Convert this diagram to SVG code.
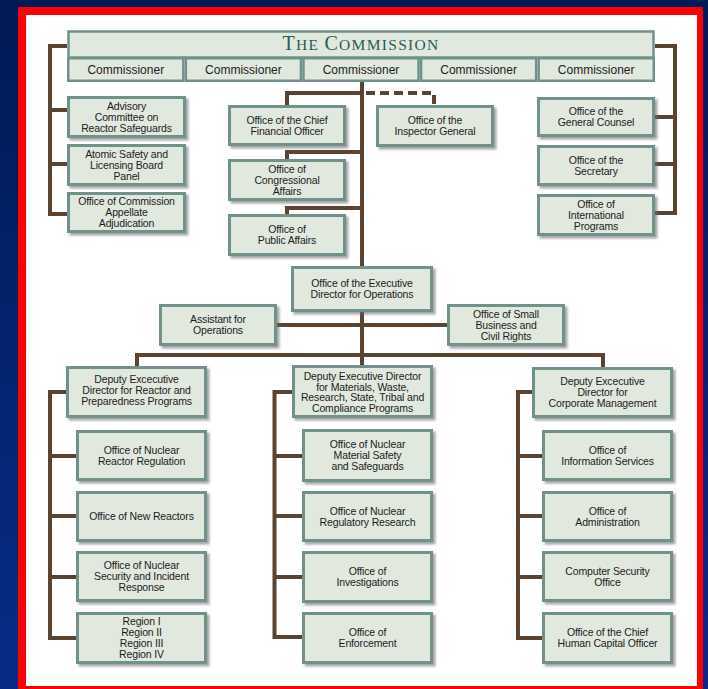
<svg xmlns="http://www.w3.org/2000/svg" width="708" height="689" viewBox="0 0 708 689">
<defs>
<linearGradient id="bg" x1="0" y1="0" x2="0" y2="1">
<stop offset="0" stop-color="#001a55"/>
<stop offset="1" stop-color="#062c86"/>
</linearGradient>
<filter id="sh" x="-10%" y="-10%" width="130%" height="130%">
<feDropShadow dx="2.5" dy="2.5" stdDeviation="1" flood-color="#6a6a6a" flood-opacity="0.6"/>
</filter>
<style>
.box{fill:#e1e8de;stroke:#6f928a;stroke-width:3;filter:url(#sh)}
.cell{fill:#e1e8de;stroke:#6f928a;stroke-width:2.5}
.t{font-family:"Liberation Sans",Arial,sans-serif;font-size:10.5px;letter-spacing:-0.15px;fill:#1c1c1c;text-anchor:middle}
.ct{font-family:"Liberation Sans",Arial,sans-serif;font-size:12px;fill:#1c1c1c;text-anchor:middle}
.title{font-family:"Liberation Serif","Times New Roman",serif;fill:#2c5a55;text-anchor:middle;letter-spacing:1.3px}
.ln{fill:none;stroke:#5b4331;stroke-width:4}
.dash{fill:none;stroke:#5b4331;stroke-width:4;stroke-dasharray:9 5}
</style>
</defs>
<rect x="0" y="0" width="708" height="689" fill="url(#bg)"/>
<rect x="18" y="7" width="685" height="690" fill="#ff0000"/>
<rect x="26" y="15" width="671" height="671" fill="#ffffff"/>

<g id="connectors">
<path class="ln" d="M67 46H50V214H67M50 110H67M50 164H67"/>
<path class="ln" d="M655 46H675V213H655M675 117H655M675 164H655"/>
<path class="ln" d="M362 82V355"/>
<path class="ln" d="M362 93H287V106M362 152H287V160M362 208H287V215"/>
<path class="dash" d="M366 93H434V106"/>
<path class="ln" d="M277 325H447"/>
<path class="ln" d="M137 355H603M137 353V367M603 353V368M362 355V366"/>
<path class="ln" d="M66 392H50V638H76M50 456H76M50 516H76M50 577H76"/>
<path class="ln" d="M292 392H274.5V637H302M274.5 456H302M274.5 516H302M274.5 577H302"/>
<path class="ln" d="M532 392H518V638H542M518 456H542M518 516H542M518 577H542"/>
</g>

<g id="commission">
<rect class="cell" x="68.5" y="31.5" width="585" height="26" stroke-width="3"/>
<text class="title" x="361" y="49.5"><tspan font-size="20">T</tspan><tspan font-size="15.5">HE </tspan><tspan font-size="20">C</tspan><tspan font-size="15.5">OMMISSION</tspan></text>
<g id="commissioner1"><rect class="cell" x="68.25" y="58.25" width="115.1" height="22.5"/><text class="ct" x="125.8" y="73.5">Commissioner</text></g>
<g id="commissioner2"><rect class="cell" x="185.85" y="58.25" width="115.1" height="22.5"/><text class="ct" x="243.4" y="73.5">Commissioner</text></g>
<g id="commissioner3"><rect class="cell" x="303.45" y="58.25" width="115.1" height="22.5"/><text class="ct" x="361" y="73.5">Commissioner</text></g>
<g id="commissioner4"><rect class="cell" x="421.05" y="58.25" width="115.1" height="22.5"/><text class="ct" x="478.6" y="73.5">Commissioner</text></g>
<g id="commissioner5"><rect class="cell" x="538.65" y="58.25" width="115.1" height="22.5"/><text class="ct" x="596.2" y="73.5">Commissioner</text></g>
</g>

<g id="acrs"><rect class="box" x="68.5" y="97.5" width="116" height="39"/><text class="t"><tspan x="126.5" y="109.9">Advisory</tspan><tspan x="126.5" y="120.7">Committee on</tspan><tspan x="126.5" y="131.5">Reactor Safeguards</tspan></text></g>
<g id="aslbp"><rect class="box" x="68.5" y="145.5" width="116" height="39"/><text class="t"><tspan x="126.5" y="157.9">Atomic Safety and</tspan><tspan x="126.5" y="168.7">Licensing Board</tspan><tspan x="126.5" y="179.5">Panel</tspan></text></g>
<g id="ocaa"><rect class="box" x="68.5" y="193.5" width="116" height="38"/><text class="t"><tspan x="126.5" y="205.4">Office of Commission</tspan><tspan x="126.5" y="216.2">Appellate</tspan><tspan x="126.5" y="227">Adjudication</tspan></text></g>

<g id="ocfo"><rect class="box" x="229.5" y="106.5" width="115" height="38"/><text class="t"><tspan x="287" y="123.8">Office of the Chief</tspan><tspan x="287" y="134.6">Financial Officer</tspan></text></g>
<g id="oca"><rect class="box" x="229.5" y="160.5" width="115" height="39"/><text class="t"><tspan x="287" y="172.9">Office of</tspan><tspan x="287" y="183.7">Congressional</tspan><tspan x="287" y="194.5">Affairs</tspan></text></g>
<g id="opa"><rect class="box" x="229.5" y="215.5" width="115" height="39"/><text class="t"><tspan x="287" y="233.3">Office of</tspan><tspan x="287" y="244.1">Public Affairs</tspan></text></g>
<g id="oig"><rect class="box" x="377.5" y="106.5" width="115" height="39"/><text class="t"><tspan x="435" y="124.3">Office of the</tspan><tspan x="435" y="135.1">Inspector General</tspan></text></g>

<g id="ogc"><rect class="box" x="538.5" y="98.5" width="115" height="37"/><text class="t"><tspan x="596" y="115.3">Office of the</tspan><tspan x="596" y="126.1">General Counsel</tspan></text></g>
<g id="secy"><rect class="box" x="538.5" y="146.5" width="115" height="38"/><text class="t"><tspan x="596" y="163.8">Office of the</tspan><tspan x="596" y="174.6">Secretary</tspan></text></g>
<g id="oip"><rect class="box" x="538.5" y="195.5" width="115" height="39"/><text class="t"><tspan x="596" y="207.9">Office of</tspan><tspan x="596" y="218.7">International</tspan><tspan x="596" y="229.5">Programs</tspan></text></g>

<g id="edo"><rect class="box" x="292.5" y="267.5" width="139" height="43"/><text class="t"><tspan x="362" y="287.3">Office of the Executive</tspan><tspan x="362" y="298.1">Director for Operations</tspan></text></g>
<g id="ao"><rect class="box" x="160.5" y="305.5" width="115" height="39"/><text class="t"><tspan x="218" y="323.3">Assistant for</tspan><tspan x="218" y="334.1">Operations</tspan></text></g>
<g id="sbcr"><rect class="box" x="448.5" y="305.5" width="115" height="39"/><text class="t"><tspan x="506" y="317.9">Office of Small</tspan><tspan x="506" y="328.7">Business and</tspan><tspan x="506" y="339.5">Civil Rights</tspan></text></g>

<g id="dedr"><rect class="box" x="67.5" y="367.5" width="138" height="49"/><text class="t"><tspan x="136.5" y="383.4">Deputy Excecutive</tspan><tspan x="136.5" y="394.2">Director for Reactor and</tspan><tspan x="136.5" y="405">Preparedness Programs</tspan></text></g>
<g id="dedm"><rect class="box" x="293.5" y="366.5" width="138" height="50"/><text class="t"><tspan x="362.5" y="379.7">Deputy Executive Director</tspan><tspan x="362.5" y="390.5">for Materials, Waste,</tspan><tspan x="362.5" y="401.3">Research, State, Tribal and</tspan><tspan x="362.5" y="412.1">Compliance Programs</tspan></text></g>
<g id="dedc"><rect class="box" x="533.5" y="368.5" width="138" height="48"/><text class="t"><tspan x="602.5" y="384.9">Deputy Excecutive</tspan><tspan x="602.5" y="395.7">Director for</tspan><tspan x="602.5" y="406.5">Corporate Management</tspan></text></g>

<g id="nrr"><rect class="box" x="77.5" y="431.5" width="128" height="48"/><text class="t"><tspan x="141.5" y="453.8">Office of Nuclear</tspan><tspan x="141.5" y="464.6">Reactor Regulation</tspan></text></g>
<g id="nro"><rect class="box" x="77.5" y="492.5" width="128" height="48"/><text class="t"><tspan x="141.5" y="520.2">Office of New Reactors</tspan></text></g>
<g id="nsir"><rect class="box" x="77.5" y="552.5" width="128" height="48"/><text class="t"><tspan x="141.5" y="569.4">Office of Nuclear</tspan><tspan x="141.5" y="580.2">Security and Incident</tspan><tspan x="141.5" y="591">Response</tspan></text></g>
<g id="regions"><rect class="box" x="77.5" y="613.5" width="128" height="49"/><text class="t"><tspan x="141.5" y="625">Region I</tspan><tspan x="141.5" y="636">Region II</tspan><tspan x="141.5" y="647">Region III</tspan><tspan x="141.5" y="658">Region IV</tspan></text></g>

<g id="nmss"><rect class="box" x="303.5" y="430.5" width="128" height="50"/><text class="t"><tspan x="367.5" y="448.4">Office of Nuclear</tspan><tspan x="367.5" y="459.2">Material Safety</tspan><tspan x="367.5" y="470">and Safeguards</tspan></text></g>
<g id="res"><rect class="box" x="303.5" y="492.5" width="128" height="48"/><text class="t"><tspan x="367.5" y="514.8">Office of Nuclear</tspan><tspan x="367.5" y="525.6">Regulatory Research</tspan></text></g>
<g id="oi"><rect class="box" x="303.5" y="552.5" width="128" height="49"/><text class="t"><tspan x="367.5" y="575.3">Office of</tspan><tspan x="367.5" y="586.1">Investigations</tspan></text></g>
<g id="oe"><rect class="box" x="303.5" y="613.5" width="128" height="49"/><text class="t"><tspan x="367.5" y="636.3">Office of</tspan><tspan x="367.5" y="647.1">Enforcement</tspan></text></g>

<g id="ois"><rect class="box" x="543.5" y="431.5" width="128" height="48"/><text class="t"><tspan x="607.5" y="453.8">Office of</tspan><tspan x="607.5" y="464.6">Information Services</tspan></text></g>
<g id="adm"><rect class="box" x="543.5" y="492.5" width="128" height="48"/><text class="t"><tspan x="607.5" y="514.8">Office of</tspan><tspan x="607.5" y="525.6">Administration</tspan></text></g>
<g id="cso"><rect class="box" x="543.5" y="552.5" width="128" height="48"/><text class="t"><tspan x="607.5" y="574.8">Computer Security</tspan><tspan x="607.5" y="585.6">Office</tspan></text></g>
<g id="ohcm"><rect class="box" x="543.5" y="613.5" width="128" height="49"/><text class="t"><tspan x="607.5" y="636.3">Office of the Chief</tspan><tspan x="607.5" y="647.1">Human Capital Officer</tspan></text></g>
</svg>
